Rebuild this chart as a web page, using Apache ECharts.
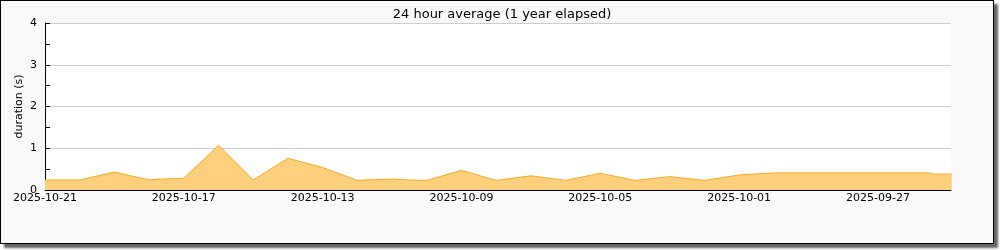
<!DOCTYPE html>
<html><head><meta charset="utf-8">
<script src="https://cdn.jsdelivr.net/npm/echarts@6/dist/echarts.min.js"></script>
<style>
html,body{margin:0;padding:0;background:#fff;}
#frame{position:absolute;left:0;top:0;width:992px;height:242px;border:1px solid #000;background:#f9f9f9;box-shadow:4px 4px 2px #666;}
#chart{position:absolute;left:0;top:0;width:1000px;height:250px;}
</style></head><body>
<div id="frame"></div><div id="chart"></div>
<script>
const titleText = '24 hour average (1 year elapsed)';
const yAxisName = 'duration (s)';
const times = [
  '2025-10-21T00:00','2025-10-20T00:00','2025-10-19T00:00','2025-10-18T00:00','2025-10-17T18:00',
  '2025-10-17T00:00','2025-10-16T00:00','2025-10-15T00:00','2025-10-14T00:00','2025-10-13T00:00',
  '2025-10-12T00:00','2025-10-11T12:00','2025-10-11T00:00','2025-10-10T12:00','2025-10-10T00:00',
  '2025-10-09T00:00','2025-10-08T00:00','2025-10-07T00:00','2025-10-06T00:00','2025-10-05T00:00',
  '2025-10-04T00:00','2025-10-03T00:00','2025-10-02T00:00','2025-10-01T00:00','2025-09-30T00:00',
  '2025-09-29T00:00','2025-09-28T00:00','2025-09-27T00:00','2025-09-26T00:00','2025-09-25T12:00',
  '2025-09-25T10:00','2025-09-24T21:00'
];
const durations = [
  0.24, 0.24, 0.43, 0.24, 0.26,
  0.28, 1.07, 0.24, 0.76, 0.54,
  0.23, 0.25, 0.26, 0.24, 0.23,
  0.47, 0.23, 0.34, 0.23, 0.40,
  0.23, 0.32, 0.23, 0.36, 0.41,
  0.41, 0.41, 0.41, 0.41, 0.41,
  0.38, 0.38
];
const xTickDates = ['2025-09-25','2025-09-27','2025-09-29','2025-10-01','2025-10-03','2025-10-05','2025-10-07',
  '2025-10-09','2025-10-11','2025-10-13','2025-10-15','2025-10-17','2025-10-19','2025-10-21'];
const xLabelDates = ['2025-09-27','2025-10-01','2025-10-05','2025-10-09','2025-10-13','2025-10-17','2025-10-21'];
const xRangeStart = '2025-09-24T21:30';
const xRangeEnd = '2025-10-21T00:00';
const yMin = 0, yMax = 4, yStep = 1;

const toMs = s => Date.parse((s.length === 10 ? s + 'T00:00' : s) + ':00Z');
const fmtDate = v => new Date(v).toISOString().slice(0, 10);

const chart = echarts.init(document.getElementById('chart'), null, {renderer: 'canvas'});
const font = 'DejaVu Sans';
chart.setOption({
  animation: false,
  backgroundColor: 'transparent',
  textStyle: {fontFamily: font},
  title: {
    text: titleText, left: 497, top: 3, textAlign: 'center',
    textStyle: {fontFamily: font, fontSize: 13, fontWeight: 'normal', color: '#000'}
  },
  grid: {left: 45, right: 49, top: 23, bottom: 60, show: true, backgroundColor: '#fff', borderWidth: 0},
  xAxis: {
    type: 'value', inverse: true,
    min: toMs(xRangeStart), max: toMs(xRangeEnd),
    axisLine: {show: true, lineStyle: {color: '#000', width: 1}},
    axisTick: {show: true, inside: true, length: 5, lineStyle: {color: '#000'}, customValues: xTickDates.map(toMs)},
    axisLabel: {
      customValues: xLabelDates.map(toMs), formatter: v => fmtDate(v),
      color: '#000', fontSize: 11, fontFamily: font, margin: 3, showMinLabel: true, showMaxLabel: true
    },
    splitLine: {show: false}
  },
  yAxis: {
    type: 'value', min: yMin, max: yMax, interval: yStep,
    name: yAxisName, nameLocation: 'middle', nameGap: 20, nameMoveOverlap: false,
    nameTextStyle: {fontFamily: font, fontSize: 11, color: '#000'},
    axisLine: {show: true, lineStyle: {color: '#000', width: 1}},
    axisTick: {show: true, inside: true, length: 5, lineStyle: {color: '#000'}},
    minorTick: {show: true, splitNumber: 2, length: 5, lineStyle: {color: '#000'}},
    minorSplitLine: {show: false},
    axisLabel: {color: '#000', fontSize: 11, fontFamily: font, margin: 8},
    splitLine: {show: true, lineStyle: {color: '#cccccc', width: 1}}
  },
  series: [{
    type: 'line',
    data: times.map((t, i) => [toMs(t), durations[i]]),
    symbol: 'none',
    lineStyle: {color: '#f7a823', width: 1},
    areaStyle: {color: '#fdd07e', opacity: 1},
    clip: true
  }]
});
</script>
</body></html>
